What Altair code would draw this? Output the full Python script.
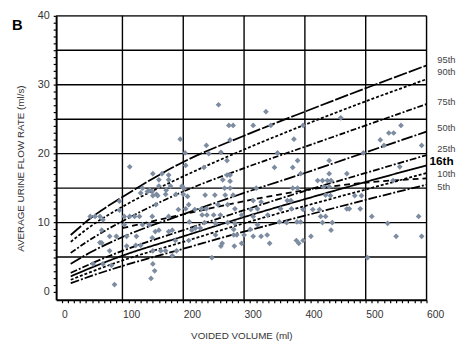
import altair as alt
import pandas as pd

# ---- scatter data (voided volume ml, average flow rate ml/s) ----
vol = [258, 336, 459, 275, 282, 315, 344, 397, 558, 538, 546, 195, 277, 382, 524, 238, 530, 592,
       203, 242, 262, 355, 496, 272, 388, 440, 204, 234, 350, 380, 112, 556, 150, 165, 272, 277,
       393, 440, 469, 160, 176, 265, 277, 421, 429, 437, 443, 545, 133, 268, 277, 201, 320, 380,
       388, 431, 440, 141, 149, 130, 145, 156, 172, 188, 236, 252, 282, 95, 176, 160, 179, 198,
       171, 200,
       434, 442, 482, 493, 150, 158, 207, 269, 315, 328, 371, 377, 469, 473, 491, 204, 230, 238,
       285, 322, 360, 378, 95, 155, 209, 257, 273, 192, 219, 311, 397, 413, 424, 426, 434, 510,
       587, 231, 239, 250, 261, 296, 315, 339, 47, 55, 63, 68, 103, 112, 120, 128, 149, 176,
       536, 358, 387, 393, 210, 253, 285, 322, 103, 133, 144, 235, 273, 429, 445, 370, 220, 228,
       283, 310, 66, 443, 154, 176, 160, 182, 214, 410, 550, 592, 253, 283, 288, 315, 328, 79,
       90, 107, 123, 149, 300, 338, 187, 209, 386, 397, 264, 296, 342, 390, 66, 107, 122, 130,
       262, 284, 79, 150, 163, 171, 189, 182, 247, 503, 52, 68, 150, 82, 153, 147, 87, 63]
rate = [27.1, 26.1, 25.2, 24.1, 24.1, 24.1, 24.1, 24.1, 24.1, 23.0, 23.0, 22.1, 22.0, 22.1, 22.0, 21.2, 21.2, 21.2,
        20.1, 20.0, 20.2, 20.1, 20.1, 19.0, 19.0, 19.0, 18.3, 18.0, 18.0, 18.0, 18.1, 18.1, 17.1, 17.1, 16.9, 16.9,
        17.1, 17.1, 17.1, 16.2, 16.2, 16.2, 16.0, 16.1, 16.1, 16.1, 16.1, 16.1, 15.0, 15.0, 15.0, 15.0, 15.0, 15.0,
        15.0, 15.2, 15.2, 14.5, 14.5, 14.3, 14.7, 14.1, 14.7, 14.1, 14.0, 14.0, 14.0, 13.1, 16.9, 15.3, 15.3, 15.3,
        14.1, 14.1,
        14.0, 13.9, 13.9, 13.9, 13.9, 13.9, 13.8, 14.0, 13.2, 13.0, 13.2, 13.2, 12.0, 12.0, 12.0, 12.0, 12.0, 12.0,
        12.0, 12.0, 12.0, 12.0, 11.8, 12.6, 12.6, 12.6, 12.6, 11.9, 11.9, 11.9, 11.9, 11.9, 11.9, 10.9, 10.9, 10.9,
        10.9, 11.1, 11.1, 11.1, 11.1, 11.1, 10.9, 11.1, 10.9, 10.9, 10.9, 10.4, 10.9, 10.9, 10.9, 10.9, 10.9, 10.9,
        9.9, 10.1, 10.1, 10.1, 10.1, 9.9, 9.9, 9.7, 9.7, 9.7, 9.7, 10.0, 10.0, 10.0, 10.0, 10.0, 9.2, 9.2,
        9.0, 9.0, 8.9, 8.9, 8.7, 8.7, 8.9, 8.9, 8.9, 8.0, 8.0, 8.0, 8.2, 8.2, 8.2, 8.0, 8.0, 8.0,
        8.0, 8.0, 8.0, 7.8, 8.2, 8.2, 7.4, 7.4, 7.4, 7.4, 7.0, 7.0, 7.0, 7.0, 7.05, 6.6, 6.7, 6.7,
        6.6, 6.6, 5.9, 5.9, 5.9, 5.9, 5.9, 5.2, 4.9, 4.9, 4.0, 4.0, 4.0, 3.8, 3.0, 1.9, 1.0, 7.1]

# ---- percentile curves ----
curve_x = [15, 50, 100, 200, 300, 400, 500, 600]
p95 = [8.2, 10.8, 13.7, 18.8, 22.6, 26.1, 29.5, 32.8]
p90 = [7.2, 9.6, 12.3, 16.7, 20.6, 24.2, 27.6, 30.8]
p75 = [5.6, 7.7, 10.2, 14.5, 17.9, 21.0, 24.1, 27.2]
p50 = [4.0, 5.8, 7.9, 11.2, 14.3, 17.2, 20.2, 23.2]
p25 = [2.7, 4.1, 5.9, 8.9, 11.8, 14.6, 17.2, 19.8]
p16 = [2.2, 3.5, 5.2, 8.0, 10.8, 13.4, 15.9, 18.3]
p10 = [1.7, 2.9, 4.5, 7.2, 9.9, 12.4, 14.8, 17.2]
p05 = [1.2, 2.3, 3.7, 6.2, 8.7, 11.0, 13.3, 15.5]
dash_x = [100, 200, 300, 400, 500, 600]
dash_y = [9.2, 11.2, 13.1, 14.7, 15.8, 16.4]

label_text = ["95th", "90th", "75th", "50th", "25th", "10th", "5th"]
label_y = [33.6, 31.9, 27.5, 23.7, 20.7, 17.1, 15.2]
bold_text = ["16th"]
bold_y = [18.9]

grid_y = [5, 10, 15, 20, 25, 30, 35, 40]
grid_x = [100, 200, 300, 400, 500, 600]

# ---- tables ----
pts = pd.DataFrame({"vol": vol, "rate": rate})
rows = []
for name, ys in [("p95", p95), ("p90", p90), ("p75", p75), ("p50", p50), ("p25", p25),
                 ("p16", p16), ("p10", p10), ("p05", p05)]:
    for xv, yv in zip(curve_x, ys):
        rows.append({"vol": xv, "rate": yv, "curve": name})
for xv, yv in zip(dash_x, dash_y):
    rows.append({"vol": xv, "rate": yv, "curve": "dash"})
curves = pd.DataFrame(rows)
labels = pd.DataFrame({"t": label_text, "rate": label_y, "vol": [600] * len(label_text)})
blabels = pd.DataFrame({"t": bold_text, "rate": bold_y, "vol": [600]})
gy = pd.DataFrame({"rate": grid_y})
gx = pd.DataFrame({"vol": grid_x})

FONT = "Liberation Sans"
xs = alt.Scale(domain=[-9, 600], nice=False, zero=False)
ys = alt.Scale(domain=[-1.2, 40], nice=False, zero=False)

x_axis = alt.Axis(values=list(range(0, 601, 10)),
                  labelExpr="datum.value % 100 === 0 ? datum.label : ''",
                  labelOverlap=False, labelFlush=False, labelAlign="left",
                  grid=False, tickSize=3, tickColor="black", tickWidth=1.2,
                  domainColor="black", domainWidth=2,
                  labelColor="#333", labelFont=FONT, labelFontSize=10.5, labelPadding=7,
                  title="VOIDED VOLUME (ml)", titleFont=FONT, titleFontSize=10,
                  titleFontWeight="normal", titleColor="#333", titlePadding=11)
y_axis = alt.Axis(values=list(range(0, 41, 1)),
                  labelExpr="datum.value % 10 === 0 ? datum.label : ''",
                  labelOverlap=False, labelFlush=False,
                  grid=False, tickSize=3, tickColor="black", tickWidth=1.2,
                  domainColor="black", domainWidth=2,
                  labelColor="#333", labelFont=FONT, labelFontSize=11, labelPadding=4,
                  title="AVERAGE URINE FLOW RATE (ml/s)", titleFont=FONT, titleFontSize=10,
                  titleFontWeight="normal", titleColor="#333", titlePadding=12, titleY=155)

X = alt.X("vol:Q", scale=xs, axis=x_axis)
Y = alt.Y("rate:Q", scale=ys, axis=y_axis)

hgrid = alt.Chart(gy).mark_rule(color="black", strokeWidth=1.4).encode(y=Y)
vgrid = alt.Chart(gx).mark_rule(color="black", strokeWidth=1.4).encode(x=X)

names = ["p95", "p90", "p75", "p50", "p25", "p16", "p10", "p05", "dash"]
dashes = [[14, 2], [3, 2], [6, 2, 2, 2], [12, 2, 2, 2], [7, 2, 2, 2], [1, 0], [3, 2],
          [9, 2, 2, 2], [6, 4]]
lines = alt.Chart(curves).mark_line(interpolate="monotone", color="black", strokeWidth=1.8).encode(
    x=X, y=Y,
    strokeDash=alt.StrokeDash("curve:N", scale=alt.Scale(domain=names, range=dashes), legend=None),
    detail="curve:N")

points = alt.Chart(pts).mark_point(shape="diamond", filled=True, size=34, color="#7d8ca0",
                                   opacity=1).encode(x=X, y=Y)

lab = alt.Chart(labels).mark_text(align="left", baseline="middle", dx=11, font=FONT,
                                  fontSize=9.5, color="#444").encode(x=X, y=Y, text="t:N")
blab = alt.Chart(blabels).mark_text(align="left", baseline="middle", dx=3, font=FONT,
                                    fontSize=12, fontWeight="bold", color="black").encode(
    x=X, y=Y, text="t:N")

panel = alt.Chart(pd.DataFrame({"t": ["B"]})).mark_text(
    align="left", baseline="alphabetic", font=FONT, fontSize=15, fontWeight="bold",
    color="black").encode(text="t:N", x=alt.value(-45), y=alt.value(14.5))

chart = alt.layer(hgrid, vgrid, lines, points, lab, blab, panel).properties(
    width=377, height=289,
    autosize=alt.AutoSizeParams(type="none"),
    padding={"left": 49, "top": 5, "right": 30, "bottom": 40},
).configure_view(stroke=None).configure(background="white")

chart.save("out.html", embed_options={"renderer": "svg", "actions": False})
